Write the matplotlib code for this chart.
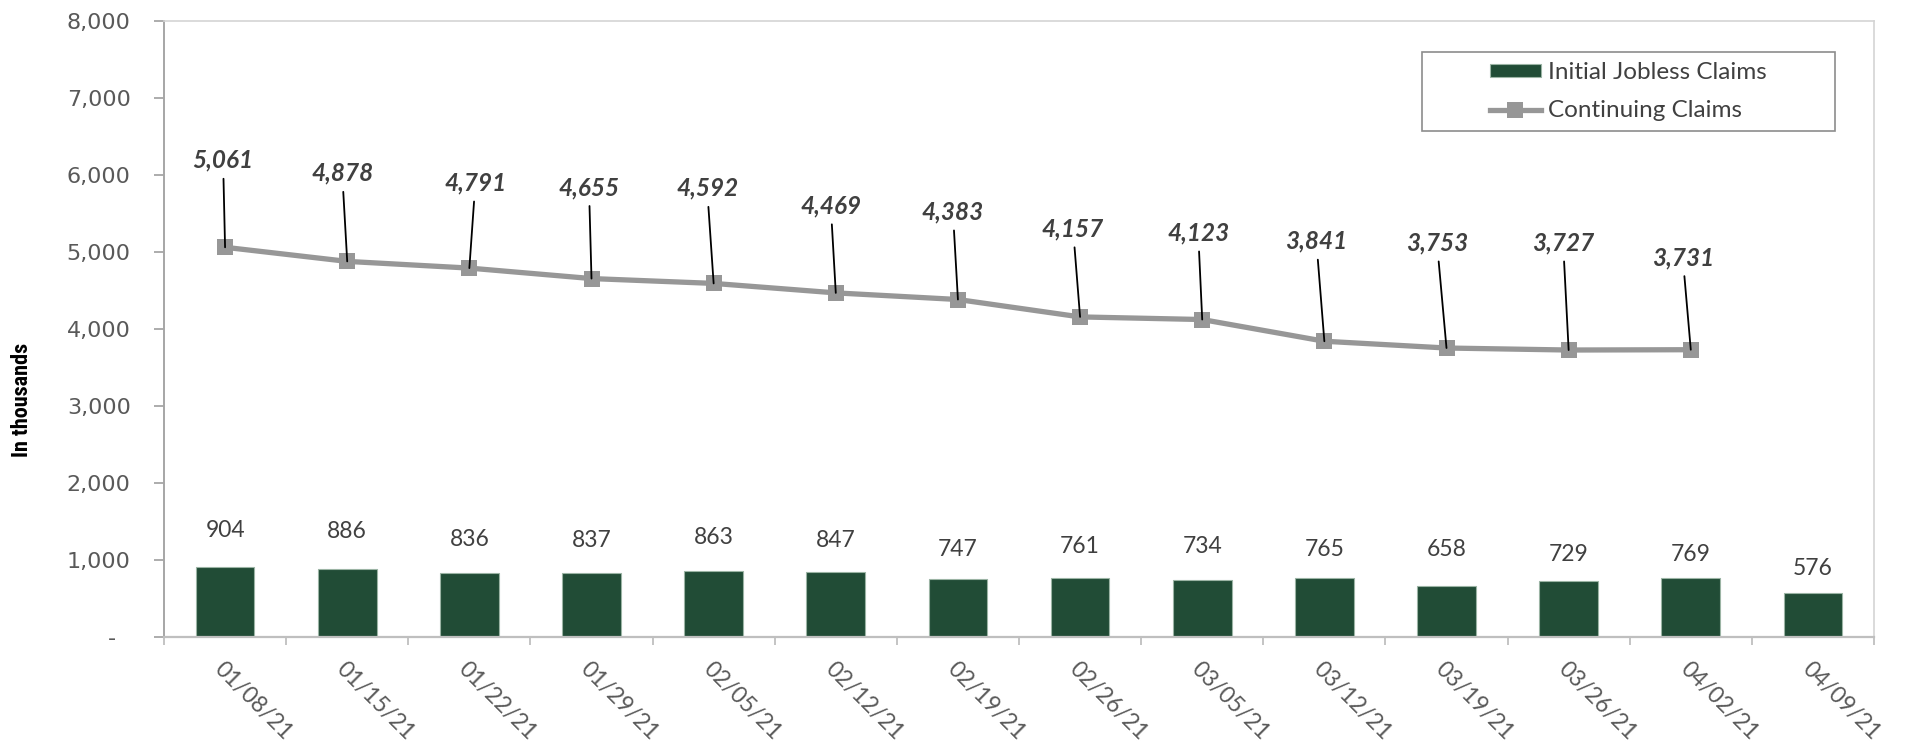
import numpy as np
import matplotlib
matplotlib.use("Agg")
import matplotlib.pyplot as plt
from matplotlib import font_manager
from matplotlib.patches import Rectangle

# ---- data -------------------------------------------------------------
week_ending = ["01/08/21", "01/15/21", "01/22/21", "01/29/21", "02/05/21",
               "02/12/21", "02/19/21", "02/26/21", "03/05/21", "03/12/21",
               "03/19/21", "03/26/21", "04/02/21", "04/09/21"]
initial_claims = [904, 886, 836, 837, 863, 847, 747, 761, 734, 765, 658, 729, 769, 576]
continuing_claims = [5061, 4878, 4791, 4655, 4592, 4469, 4383, 4157, 4123, 3841,
                     3753, 3727, 3731]
y_ticks = [0, 1000, 2000, 3000, 4000, 5000, 6000, 7000, 8000]

# ---- label placement (pixel offsets) -----------------------------------
bar_label_gap = [39, 39.5, 35, 34.5, 35.5, 33.5, 32, 34, 36, 31, 39, 28.5, 25.5, 26.5]
cont_label_dx = [-2, -5, 6, -2.5, -6.5, -5, -5, -7, -4, -8, -9.5, -5.5, -8]
cont_label_dy = [89, 90, 87, 93, 97, 89, 89.5, 90, 88.5, 102, 107, 109, 94]

# ---- styling -----------------------------------------------------------
BAR_COLOR = "#214C36"
LINE_COLOR = "#979797"
TEXT_DARK = "#404040"
TEXT_GRAY = "#595959"
CAL = ["Lato", "DejaVu Sans"]


def has_font(name):
    try:
        font_manager.findfont(name, fallback_to_default=False)
        return True
    except Exception:
        return False


W, H = 1914, 744
fig = plt.figure(figsize=(W / 100, H / 100), dpi=100)
ax = fig.add_axes([164 / W, 107 / H, 1710 / W, 616 / H])

x = np.arange(len(week_ending))
xc = x[:len(continuing_claims)]

bars = ax.bar(x, initial_claims, width=0.48, color=BAR_COLOR,
              edgecolor="#9BB4A4", linewidth=0.8, zorder=2,
              label="Initial Jobless Claims")
line, = ax.plot(xc, continuing_claims, color=LINE_COLOR, lw=3.8,
                marker="s", markersize=12, markeredgewidth=0,
                zorder=3, label="Continuing Claims")

# bar value labels
for xi, v, gap in zip(x, initial_claims, bar_label_gap):
    ax.annotate(f"{v:,}", xy=(xi, v), xytext=(0, gap),
                textcoords="offset pixels", ha="center",
                va="center_baseline", fontsize=16.5, color=TEXT_DARK,
                family=CAL, zorder=5)

# continuing-claims labels with leader lines
for xi, v, dx, dy in zip(xc, continuing_claims, cont_label_dx, cont_label_dy):
    ax.annotate(f"{v:,}", xy=(xi, v), xytext=(dx, dy),
                textcoords="offset pixels", ha="center",
                va="center_baseline", fontsize=17.5, color=TEXT_DARK,
                fontweight="bold", fontstyle="italic", family=CAL,
                arrowprops=dict(arrowstyle="-", color="black", lw=1.3,
                                shrinkA=3, shrinkB=0),
                zorder=6)

# axes limits and ticks
ax.set_xlim(-0.5, len(week_ending) - 0.5)
ax.set_ylim(0, 8000)

ax.set_xticks(np.arange(len(week_ending) + 1) - 0.5)
ax.set_xticklabels([])
ax.set_xticks(x, minor=True)
ax.set_xticklabels(week_ending, minor=True)
ax.tick_params(axis="x", which="major", length=6, width=1.3, color="#BFBFBF",
               direction="out")
ax.tick_params(axis="x", which="minor", length=0, pad=15)
for lbl in ax.get_xticklabels(minor=True):
    lbl.set_rotation(-45)
    lbl.set_rotation_mode("anchor")
    lbl.set_ha("left")
    lbl.set_va("top")
    lbl.set_fontsize(16.5)
    lbl.set_color(TEXT_GRAY)
    lbl.set_family(CAL)

ax.set_yticks(y_ticks)
ax.set_yticklabels(["-  " if v == 0 else f"{v:,}" for v in y_ticks])
ax.tick_params(axis="y", length=7, width=1.3, color="#A6A6A6", pad=17,
               labelsize=16, labelcolor=TEXT_GRAY)

ax.spines["left"].set_color("#A6A6A6")
ax.spines["left"].set_linewidth(1.4)
ax.spines["bottom"].set_color("#BFBFBF")
ax.spines["bottom"].set_linewidth(1.6)
for s in ("top", "right"):
    ax.spines[s].set_color("#D4D4D4")
    ax.spines[s].set_linewidth(1.2)

# y-axis title: a condensed bold face if one is installed
yfam, ysize = ["Liberation Sans", "DejaVu Sans"], 14.5
for name, size in (("Liberation Sans Narrow", 16.5), ("Roboto Condensed", 16),
                   ("Open Sans Condensed", 16)):
    if has_font(name):
        yfam, ysize = [name, "DejaVu Sans"], size
        break
fig.text(22 / W, 1 - 400 / H, "In thousands", rotation=90, ha="center",
         va="center", fontsize=ysize, fontweight="bold", family=yfam,
         color="black")

# legend with a plain rectangular frame
lx0, ly0, lx1, ly1 = 1422, 52, 1835, 131
ax0, ay0 = 164, 637
fx = lambda px: (px - ax0) / 1710
fy = lambda py: (ay0 - py) / 616
frame = Rectangle((fx(lx0), fy(ly1)), fx(lx1) - fx(lx0), fy(ly0) - fy(ly1),
                  transform=ax.transAxes, facecolor="white",
                  edgecolor="#8C8C8C", linewidth=1.2, zorder=7)
ax.add_patch(frame)
leg = ax.legend(handles=[bars, line], loc="center",
                bbox_to_anchor=(fx((lx0 + lx1) / 2), fy((ly0 + ly1) / 2)),
                frameon=False, prop={"family": CAL, "size": 17.5},
                handlelength=2.1, handleheight=0.45, handletextpad=0.3,
                labelspacing=0.72, borderaxespad=0, numpoints=1)
leg.set_zorder(8)
for t in leg.get_texts():
    t.set_color(TEXT_DARK)

fig.savefig("out.png", dpi=100, facecolor="white")
